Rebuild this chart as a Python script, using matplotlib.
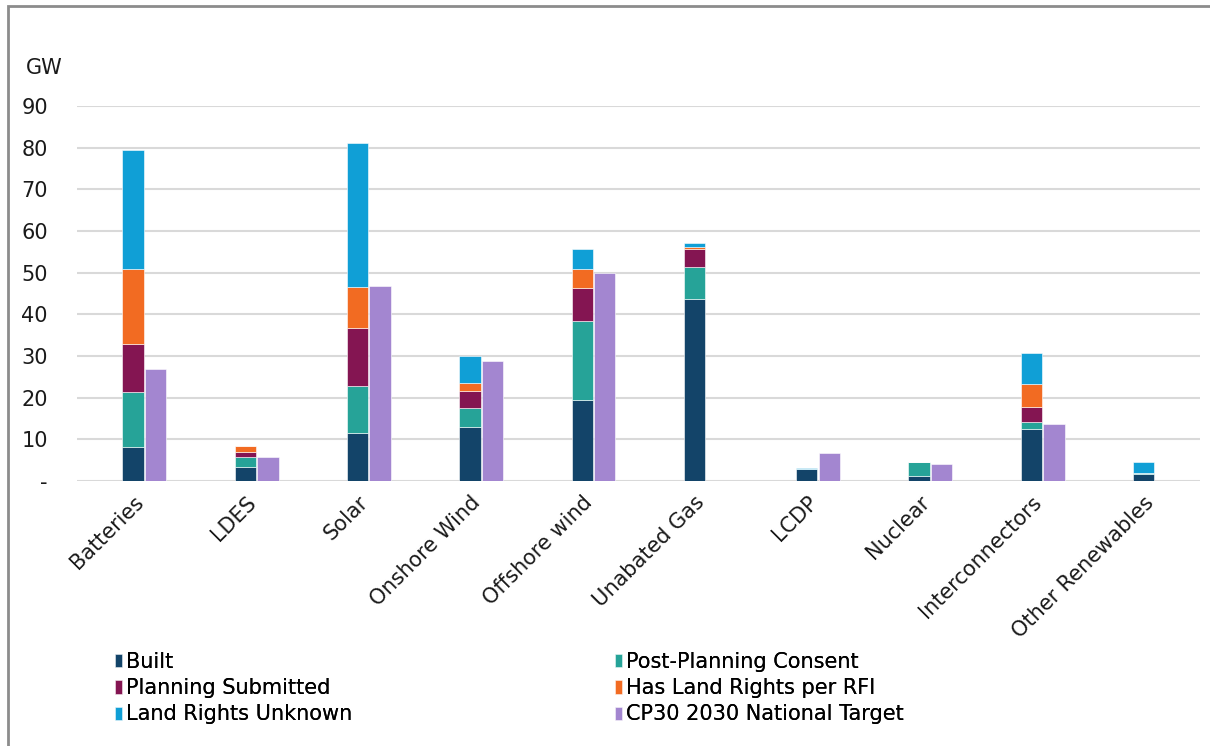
import numpy as np
import matplotlib
matplotlib.use('Agg')
import matplotlib.pyplot as plt
from matplotlib.patches import Rectangle

# categories and stacked pipeline values (GW)
categories = ['Batteries', 'LDES', 'Solar', 'Onshore Wind', 'Offshore wind',
              'Unabated Gas', 'LCDP', 'Nuclear', 'Interconnectors', 'Other Renewables']
built = [8.3, 3.3, 11.5, 13.1, 19.5, 43.8, 3.0, 1.2, 12.5, 1.7]
post_planning = [13.0, 2.5, 11.4, 4.4, 18.9, 7.5, 0.0, 3.3, 1.6, 0.3]
planning_submitted = [11.7, 1.1, 13.9, 4.1, 8.0, 4.5, 0.0, 0.0, 3.8, 0.0]
land_rights_rfi = [17.8, 1.5, 9.8, 2.0, 4.4, 0.3, 0.0, 0.0, 5.3, 0.0]
land_rights_unknown = [28.6, 0.0, 34.5, 6.5, 4.9, 1.1, 0.2, 0.0, 7.6, 2.5]
cp30_target = [27.0, 5.9, 46.9, 28.8, 50.0, 0.0, 6.8, 4.0, 13.8, 0.0]

series = [
    ('Built', built, '#134469'),
    ('Post-Planning Consent', post_planning, '#26A398'),
    ('Planning Submitted', planning_submitted, '#841552'),
    ('Has Land Rights per RFI', land_rights_rfi, '#F26B22'),
    ('Land Rights Unknown', land_rights_unknown, '#109FD6'),
]
target_color = '#A386D0'

plt.rcParams['font.family'] = ['DejaVu Sans']
fs = 15

fig = plt.figure(figsize=(12.1, 7.46), dpi=100)
ax = fig.add_axes([0.0636, 0.355, 0.928, 0.503])

x = np.arange(len(categories))
w = 0.19
bottom = np.zeros(len(categories))
handles = {}
for name, vals, col in series:
    vals = np.array(vals)
    b = ax.bar(x, vals, w, bottom=bottom, color=col, edgecolor='white', linewidth=0.4)
    handles[name] = b
    bottom += vals
handles['CP30 2030 National Target'] = ax.bar(x + w + 0.01, cp30_target, w, color=target_color,
                                               edgecolor='white', linewidth=0.4)

ax.set_xlim(-0.5, len(categories) - 0.5)
ax.set_ylim(0, 90)
ax.set_yticks(range(0, 91, 10))
ax.set_yticklabels(['-'] + [str(v) for v in range(10, 91, 10)])
ax.yaxis.grid(True, color='#d9d9d9', linewidth=1.5)
ax.set_axisbelow(True)
for s in ax.spines.values():
    s.set_visible(False)
ax.tick_params(axis='y', length=0, pad=21, labelsize=fs, colors='#1a1a1a')
ax.tick_params(axis='x', length=0, pad=8, labelsize=fs, colors='#1a1a1a')
ax.set_xticks(x)
ax.set_xticklabels(categories, rotation=45, ha='right', rotation_mode='anchor')

fig.text(0.021, 1 - 68 / 746, 'GW', fontsize=fs, va='center', color='#1a1a1a')

# legend in two columns, row order as in the original
col1 = ['Built', 'Planning Submitted', 'Land Rights Unknown']
col2 = ['Post-Planning Consent', 'Has Land Rights per RFI', 'CP30 2030 National Target']
for names, xpos in [(col1, 0.095), (col2, 0.508)]:
    leg = fig.legend([handles[n] for n in names], names, loc='upper left',
                     bbox_to_anchor=(xpos, 1 - 652 / 746), frameon=False,
                     fontsize=fs, handlelength=0.35, handleheight=0.6,
                     handletextpad=0.2, labelspacing=0.3, borderaxespad=0,
                     borderpad=0)
    fig.add_artist(leg)

# light frame around the chart
fig.patches.append(Rectangle((8 / 1210, -0.05), 1.1, 1 - 6 / 746 + 0.05,
                             transform=fig.transFigure, fill=False,
                             edgecolor='#8c8c8c', linewidth=2))

fig.savefig('out.png', dpi=100)
